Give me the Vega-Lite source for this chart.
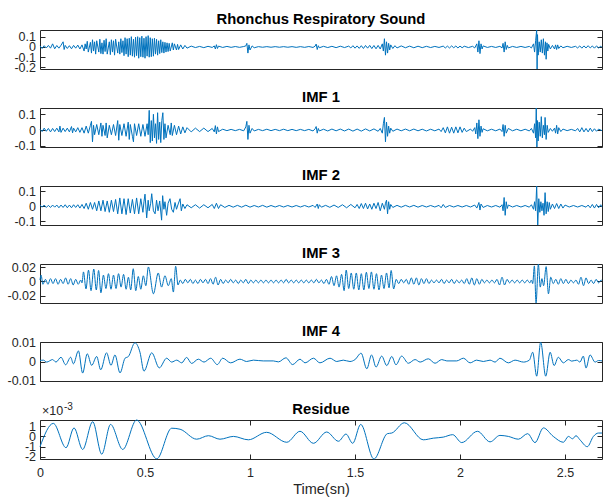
{
  "$schema": "https://vega.github.io/schema/vega-lite/v6.json",
  "background": "white",
  "padding": {"left": 6, "top": 11, "right": 1, "bottom": 0},
  "bounds": "flush",
  "spacing": 39,
  "datasets": {
    "raw": [
      {"t":0,"v":0.01},{"t":0.01,"v":-0.015},{"t":0.02,"v":0.012},{"t":0.03,"v":-0.01},{"t":0.04,"v":0.015},{"t":0.05,"v":-0.012},{"t":0.06,"v":0.03},{"t":0.07,"v":-0.018},{"t":0.08,"v":0.014},{"t":0.09,"v":-0.012},{"t":0.1,"v":0.016},{"t":0.11,"v":0.05},{"t":0.115,"v":-0.025},{"t":0.12,"v":0.015},{"t":0.13,"v":-0.015},{"t":0.14,"v":0.012},{"t":0.15,"v":-0.018},{"t":0.16,"v":0.015},{"t":0.17,"v":-0.012},{"t":0.18,"v":0.018},{"t":0.19,"v":-0.02},{"t":0.2,"v":0.02},
      {"t":0.21,"v":-0.04},{"t":0.215,"v":0.03},{"t":0.22,"v":-0.02},{"t":0.225,"v":0.055},{"t":0.23,"v":-0.05},{"t":0.24,"v":0.045},{"t":0.245,"v":-0.06},{"t":0.25,"v":0.07},{"t":0.255,"v":-0.04},{"t":0.26,"v":0.05},{"t":0.265,"v":-0.07},{"t":0.27,"v":0.06},{"t":0.28,"v":-0.05},{"t":0.285,"v":0.075},{"t":0.29,"v":-0.065},{"t":0.295,"v":0.04},{"t":0.3,"v":-0.07},{"t":0.305,"v":0.065},{"t":0.31,"v":-0.045},{"t":0.315,"v":0.08},{"t":0.32,"v":-0.07},{"t":0.33,"v":0.05},{"t":0.335,"v":-0.075},{"t":0.34,"v":0.07},{"t":0.345,"v":-0.05},{"t":0.35,"v":0.06},{"t":0.355,"v":-0.08},{"t":0.36,"v":0.075},{"t":0.37,"v":-0.06},{"t":0.375,"v":0.05},{"t":0.38,"v":-0.07},{"t":0.385,"v":0.08},{"t":0.39,"v":-0.055},{"t":0.395,"v":0.06},{"t":0.4,"v":-0.085},{"t":0.405,"v":0.09},{"t":0.41,"v":-0.07},{"t":0.415,"v":0.08},{"t":0.42,"v":-0.095},{"t":0.425,"v":0.085},{"t":0.43,"v":-0.08},{"t":0.435,"v":0.1},{"t":0.44,"v":-0.09},{"t":0.445,"v":0.075},{"t":0.45,"v":-0.1},{"t":0.455,"v":0.095},{"t":0.46,"v":-0.085},{"t":0.465,"v":0.1},{"t":0.47,"v":-0.11},{"t":0.475,"v":0.09},{"t":0.48,"v":-0.095},{"t":0.485,"v":0.105},{"t":0.49,"v":-0.1},{"t":0.495,"v":0.085},{"t":0.5,"v":-0.11},{"t":0.505,"v":0.1},{"t":0.51,"v":-0.09},{"t":0.515,"v":0.11},{"t":0.52,"v":-0.1},{"t":0.525,"v":0.09},{"t":0.53,"v":-0.095},{"t":0.535,"v":0.08},{"t":0.54,"v":-0.09},{"t":0.545,"v":0.085},{"t":0.55,"v":-0.07},{"t":0.555,"v":0.075},{"t":0.56,"v":-0.08},{"t":0.565,"v":0.06},{"t":0.57,"v":-0.065},{"t":0.575,"v":0.07},{"t":0.58,"v":-0.055},{"t":0.585,"v":0.05},{"t":0.59,"v":-0.06},{"t":0.595,"v":0.045},{"t":0.6,"v":-0.05},{"t":0.605,"v":0.04},{"t":0.61,"v":-0.045},{"t":0.615,"v":0.035},{"t":0.62,"v":-0.04},{"t":0.63,"v":0.04},{"t":0.635,"v":-0.03},{"t":0.64,"v":0.03},{"t":0.65,"v":-0.03},{"t":0.655,"v":0.025},{"t":0.66,"v":-0.025},{"t":0.67,"v":0.02},{"t":0.68,"v":-0.02},{"t":0.69,"v":0.015},{"t":0.7,"v":-0.012},
      {"t":0.72,"v":0.008},{"t":0.74,"v":-0.006},{"t":0.76,"v":0.005},{"t":0.78,"v":-0.007},{"t":0.8,"v":0.006},{"t":0.82,"v":-0.005},{"t":0.83,"v":0.01},{"t":0.835,"v":-0.02},{"t":0.84,"v":0.022},{"t":0.845,"v":-0.015},{"t":0.85,"v":0.008},{"t":0.87,"v":-0.005},{"t":0.89,"v":0.005},{"t":0.91,"v":-0.004},{"t":0.93,"v":0.004},{"t":0.95,"v":-0.004},{"t":0.97,"v":0.004},{"t":0.98,"v":0.01},{"t":0.985,"v":0.035},{"t":0.99,"v":-0.06},{"t":0.995,"v":0.02},{"t":1,"v":-0.03},{"t":1.01,"v":0.01},{"t":1.02,"v":-0.008},{"t":1.04,"v":0.003},{"t":1.06,"v":-0.003},{"t":1.08,"v":0.003},{"t":1.1,"v":-0.003},{"t":1.12,"v":0.003},{"t":1.14,"v":-0.003},{"t":1.16,"v":0.003},{"t":1.18,"v":-0.003},{"t":1.2,"v":0.003},{"t":1.22,"v":-0.004},{"t":1.24,"v":0.003},
      {"t":1.26,"v":-0.004},{"t":1.28,"v":0.004},{"t":1.3,"v":-0.005},{"t":1.31,"v":0.008},{"t":1.315,"v":0.028},{"t":1.32,"v":-0.025},{"t":1.325,"v":0.012},{"t":1.33,"v":-0.008},{"t":1.35,"v":0.006},{"t":1.37,"v":-0.006},{"t":1.39,"v":0.006},{"t":1.41,"v":-0.007},{"t":1.43,"v":0.007},{"t":1.45,"v":-0.006},{"t":1.47,"v":0.008},{"t":1.48,"v":-0.01},{"t":1.49,"v":0.012},{"t":1.5,"v":-0.012},{"t":1.51,"v":0.01},{"t":1.52,"v":-0.014},{"t":1.53,"v":0.012},{"t":1.54,"v":-0.015},{"t":1.55,"v":0.014},{"t":1.56,"v":-0.012},{"t":1.57,"v":0.015},{"t":1.58,"v":-0.016},{"t":1.59,"v":0.014},{"t":1.6,"v":-0.018},{"t":1.61,"v":0.015},{"t":1.62,"v":-0.02},{"t":1.63,"v":0.03},{"t":1.635,"v":-0.04},{"t":1.64,"v":0.08},{"t":1.645,"v":-0.08},{"t":1.65,"v":0.05},{"t":1.655,"v":-0.06},{"t":1.66,"v":0.035},{"t":1.665,"v":-0.03},{"t":1.67,"v":0.02},{"t":1.68,"v":-0.015},{"t":1.69,"v":0.012},{"t":1.7,"v":-0.01},{"t":1.72,"v":0.01},{"t":1.74,"v":-0.008},{"t":1.76,"v":0.008},{"t":1.78,"v":-0.008},{"t":1.8,"v":0.007},{"t":1.82,"v":-0.007},{"t":1.84,"v":0.006},{"t":1.86,"v":-0.006},{"t":1.88,"v":0.005},{"t":1.9,"v":-0.005},{"t":1.92,"v":0.008},{"t":1.93,"v":-0.01},{"t":1.94,"v":0.008},{"t":1.95,"v":-0.01},{"t":1.96,"v":0.01},{"t":1.97,"v":-0.008},{"t":1.98,"v":0.009},{"t":1.99,"v":-0.01},{"t":2,"v":0.008},{"t":2.01,"v":-0.008},{"t":2.02,"v":0.007},{"t":2.04,"v":-0.006},{"t":2.06,"v":0.006},{"t":2.07,"v":-0.01},{"t":2.08,"v":0.03},{"t":2.085,"v":-0.05},{"t":2.09,"v":0.06},{"t":2.095,"v":-0.065},{"t":2.1,"v":0.03},{"t":2.105,"v":-0.02},{"t":2.11,"v":0.01},{"t":2.13,"v":-0.005},{"t":2.15,"v":0.005},{"t":2.17,"v":-0.005},{"t":2.19,"v":0.006},{"t":2.2,"v":-0.01},{"t":2.205,"v":0.035},{"t":2.21,"v":-0.05},{"t":2.215,"v":0.05},{"t":2.22,"v":-0.025},{"t":2.225,"v":0.015},{"t":2.23,"v":-0.01},{"t":2.25,"v":0.005},{"t":2.27,"v":-0.005},{"t":2.29,"v":0.005},{"t":2.31,"v":-0.005},{"t":2.33,"v":0.005},{"t":2.34,"v":-0.01},{"t":2.35,"v":0.03},{"t":2.355,"v":-0.05},{"t":2.36,"v":0.06},{"t":2.365,"v":0.165},{"t":2.367,"v":-0.215},{"t":2.369,"v":0.12},{"t":2.372,"v":-0.08},{"t":2.377,"v":0.05},{"t":2.382,"v":-0.05},{"t":2.387,"v":0.07},{"t":2.392,"v":-0.06},{"t":2.397,"v":0.08},{"t":2.402,"v":-0.08},{"t":2.407,"v":0.05},{"t":2.41,"v":-0.12},{"t":2.414,"v":0.04},{"t":2.418,"v":-0.04},{"t":2.422,"v":0.025},{"t":2.43,"v":-0.02},{"t":2.44,"v":0.015},{"t":2.45,"v":-0.02},{"t":2.455,"v":0.02},{"t":2.46,"v":-0.025},{"t":2.465,"v":0.02},{"t":2.47,"v":-0.015},{"t":2.48,"v":0.01},{"t":2.49,"v":-0.008},{"t":2.51,"v":0.006},{"t":2.53,"v":-0.005},{"t":2.55,"v":0.006},{"t":2.56,"v":-0.01},{"t":2.57,"v":0.01},{"t":2.58,"v":-0.012},{"t":2.59,"v":0.01},{"t":2.6,"v":-0.01},{"t":2.61,"v":0.012},{"t":2.62,"v":-0.01},{"t":2.63,"v":0.01},{"t":2.64,"v":-0.012},{"t":2.65,"v":0.01},{"t":2.66,"v":-0.01},{"t":2.67,"v":0.008},{"t":2.676,"v":-0.005}
    ],
    "imf1": [
      {"t":0,"v":0.005},{"t":0.01,"v":-0.01},{"t":0.02,"v":0.012},{"t":0.03,"v":-0.008},{"t":0.04,"v":0.01},{"t":0.05,"v":-0.012},{"t":0.06,"v":0.01},{"t":0.07,"v":-0.01},{"t":0.08,"v":0.012},{"t":0.09,"v":-0.012},{"t":0.095,"v":0.025},{"t":0.1,"v":-0.015},{"t":0.11,"v":0.012},{"t":0.12,"v":-0.01},{"t":0.13,"v":0.012},{"t":0.14,"v":-0.012},{"t":0.15,"v":0.022},{"t":0.155,"v":-0.018},{"t":0.16,"v":0.012},{"t":0.17,"v":-0.012},{"t":0.18,"v":0.015},{"t":0.19,"v":-0.015},{"t":0.2,"v":0.015},
      {"t":0.21,"v":-0.02},{"t":0.22,"v":0.025},{"t":0.23,"v":-0.02},{"t":0.24,"v":0.03},{"t":0.245,"v":0.055},{"t":0.25,"v":-0.075},{"t":0.255,"v":0.03},{"t":0.26,"v":-0.03},{"t":0.27,"v":0.035},{"t":0.28,"v":-0.03},{"t":0.29,"v":0.045},{"t":0.295,"v":-0.04},{"t":0.3,"v":0.03},{"t":0.31,"v":-0.035},{"t":0.315,"v":0.045},{"t":0.32,"v":-0.05},{"t":0.33,"v":0.03},{"t":0.34,"v":-0.03},{"t":0.35,"v":0.035},{"t":0.36,"v":-0.035},{"t":0.37,"v":0.06},{"t":0.375,"v":-0.065},{"t":0.38,"v":0.035},{"t":0.39,"v":-0.035},{"t":0.4,"v":0.04},{"t":0.41,"v":-0.04},{"t":0.42,"v":0.05},{"t":0.425,"v":-0.06},{"t":0.43,"v":0.035},{"t":0.44,"v":-0.04},{"t":0.445,"v":-0.075},{"t":0.45,"v":0.04},{"t":0.46,"v":-0.035},{"t":0.47,"v":0.04},{"t":0.48,"v":-0.04},{"t":0.49,"v":0.035},{"t":0.5,"v":-0.04},{"t":0.51,"v":0.04},{"t":0.515,"v":-0.03},{"t":0.52,"v":0.125},{"t":0.525,"v":-0.08},{"t":0.53,"v":0.06},{"t":0.535,"v":-0.07},{"t":0.54,"v":0.1},{"t":0.545,"v":-0.05},{"t":0.55,"v":0.04},{"t":0.555,"v":-0.085},{"t":0.56,"v":0.11},{"t":0.565,"v":-0.06},{"t":0.57,"v":0.05},{"t":0.575,"v":-0.08},{"t":0.58,"v":0.06},{"t":0.585,"v":0.11},{"t":0.59,"v":-0.06},{"t":0.595,"v":0.04},{"t":0.6,"v":-0.05},{"t":0.61,"v":0.03},{"t":0.62,"v":-0.03},{"t":0.625,"v":0.045},{"t":0.63,"v":-0.035},{"t":0.64,"v":0.03},{"t":0.65,"v":-0.03},{"t":0.66,"v":0.025},{"t":0.67,"v":-0.025},{"t":0.68,"v":0.02},{"t":0.69,"v":-0.018},{"t":0.7,"v":0.015},
      {"t":0.72,"v":-0.012},{"t":0.74,"v":0.012},{"t":0.76,"v":-0.01},{"t":0.78,"v":0.012},{"t":0.8,"v":-0.01},{"t":0.82,"v":0.01},{"t":0.83,"v":-0.012},{"t":0.835,"v":0.028},{"t":0.84,"v":-0.025},{"t":0.845,"v":0.02},{"t":0.85,"v":-0.01},{"t":0.87,"v":0.005},{"t":0.89,"v":-0.004},{"t":0.91,"v":0.004},{"t":0.93,"v":-0.004},{"t":0.95,"v":0.004},{"t":0.97,"v":-0.005},{"t":0.98,"v":0.02},{"t":0.985,"v":0.055},{"t":0.99,"v":-0.06},{"t":0.995,"v":0.03},{"t":1,"v":-0.02},{"t":1.01,"v":0.01},{"t":1.02,"v":-0.006},{"t":1.04,"v":0.004},{"t":1.06,"v":-0.004},{"t":1.08,"v":0.005},{"t":1.1,"v":-0.004},{"t":1.12,"v":0.004},{"t":1.14,"v":-0.004},{"t":1.16,"v":0.005},{"t":1.18,"v":-0.004},{"t":1.2,"v":0.004},{"t":1.22,"v":-0.004},{"t":1.24,"v":0.004},
      {"t":1.26,"v":-0.004},{"t":1.28,"v":0.004},{"t":1.3,"v":-0.006},{"t":1.31,"v":0.008},{"t":1.315,"v":0.022},{"t":1.32,"v":-0.02},{"t":1.325,"v":0.01},{"t":1.33,"v":-0.006},{"t":1.35,"v":0.005},{"t":1.37,"v":-0.006},{"t":1.39,"v":0.006},{"t":1.41,"v":-0.005},{"t":1.43,"v":0.006},{"t":1.45,"v":-0.006},{"t":1.47,"v":0.006},{"t":1.49,"v":-0.007},{"t":1.51,"v":0.006},{"t":1.53,"v":-0.007},{"t":1.55,"v":0.007},{"t":1.57,"v":-0.006},{"t":1.59,"v":0.007},{"t":1.61,"v":-0.008},{"t":1.62,"v":0.01},{"t":1.63,"v":-0.02},{"t":1.635,"v":0.04},{"t":1.64,"v":0.08},{"t":1.645,"v":-0.075},{"t":1.65,"v":0.05},{"t":1.655,"v":-0.04},{"t":1.66,"v":0.025},{"t":1.665,"v":-0.02},{"t":1.67,"v":0.012},{"t":1.68,"v":-0.008},{"t":1.7,"v":0.006},{"t":1.72,"v":-0.005},{"t":1.74,"v":0.006},{"t":1.76,"v":-0.005},{"t":1.78,"v":0.006},{"t":1.8,"v":-0.005},{"t":1.82,"v":0.005},{"t":1.84,"v":-0.006},{"t":1.86,"v":0.005},{"t":1.88,"v":-0.005},{"t":1.9,"v":0.006},{"t":1.91,"v":-0.01},{"t":1.92,"v":0.015},{"t":1.93,"v":-0.018},{"t":1.94,"v":0.02},{"t":1.95,"v":-0.02},{"t":1.96,"v":0.018},{"t":1.97,"v":-0.02},{"t":1.98,"v":0.02},{"t":1.99,"v":-0.018},{"t":2,"v":0.02},{"t":2.01,"v":-0.015},{"t":2.02,"v":0.012},{"t":2.03,"v":-0.01},{"t":2.05,"v":0.006},{"t":2.06,"v":-0.008},{"t":2.07,"v":0.015},{"t":2.075,"v":-0.025},{"t":2.08,"v":0.045},{"t":2.085,"v":-0.055},{"t":2.09,"v":0.065},{"t":2.095,"v":-0.04},{"t":2.1,"v":0.025},{"t":2.105,"v":-0.015},{"t":2.11,"v":0.008},{"t":2.13,"v":-0.005},{"t":2.15,"v":0.005},{"t":2.17,"v":-0.005},{"t":2.19,"v":0.006},{"t":2.2,"v":-0.01},{"t":2.205,"v":0.035},{"t":2.21,"v":-0.04},{"t":2.215,"v":0.03},{"t":2.22,"v":-0.02},{"t":2.23,"v":0.01},{"t":2.25,"v":-0.005},{"t":2.27,"v":0.005},{"t":2.29,"v":-0.005},{"t":2.31,"v":0.005},{"t":2.33,"v":-0.006},{"t":2.34,"v":0.01},{"t":2.35,"v":-0.02},{"t":2.355,"v":0.04},{"t":2.36,"v":-0.05},{"t":2.363,"v":0.14},{"t":2.366,"v":-0.108},{"t":2.369,"v":0.06},{"t":2.372,"v":-0.07},{"t":2.377,"v":0.05},{"t":2.382,"v":-0.04},{"t":2.387,"v":0.085},{"t":2.392,"v":-0.05},{"t":2.397,"v":0.03},{"t":2.402,"v":-0.03},{"t":2.405,"v":0.08},{"t":2.41,"v":-0.06},{"t":2.415,"v":0.03},{"t":2.42,"v":-0.015},{"t":2.43,"v":0.01},{"t":2.44,"v":-0.008},{"t":2.45,"v":0.012},{"t":2.455,"v":-0.02},{"t":2.46,"v":0.03},{"t":2.465,"v":-0.025},{"t":2.47,"v":0.015},{"t":2.48,"v":-0.01},{"t":2.49,"v":0.006},{"t":2.51,"v":-0.004},{"t":2.53,"v":0.004},{"t":2.55,"v":-0.005},{"t":2.56,"v":0.01},{"t":2.57,"v":-0.012},{"t":2.58,"v":0.015},{"t":2.59,"v":-0.012},{"t":2.6,"v":0.01},{"t":2.61,"v":-0.012},{"t":2.62,"v":0.012},{"t":2.63,"v":-0.01},{"t":2.64,"v":0.008},{"t":2.65,"v":-0.008},{"t":2.66,"v":0.006},{"t":2.676,"v":-0.004}
    ],
    "imf2": [
      {"t":0,"v":0.008},{"t":0.01,"v":-0.006},{"t":0.02,"v":0.008},{"t":0.03,"v":-0.008},{"t":0.04,"v":0.006},{"t":0.05,"v":-0.008},{"t":0.06,"v":0.008},{"t":0.07,"v":-0.006},{"t":0.08,"v":0.008},{"t":0.09,"v":-0.01},{"t":0.1,"v":0.008},{"t":0.11,"v":-0.008},{"t":0.12,"v":0.01},{"t":0.13,"v":-0.01},{"t":0.14,"v":0.008},{"t":0.15,"v":-0.01},{"t":0.16,"v":0.01},{"t":0.17,"v":-0.008},{"t":0.18,"v":0.01},{"t":0.19,"v":-0.012},{"t":0.2,"v":0.012},
      {"t":0.21,"v":-0.015},{"t":0.22,"v":0.02},{"t":0.23,"v":-0.02},{"t":0.24,"v":0.025},{"t":0.25,"v":-0.02},{"t":0.26,"v":0.025},{"t":0.27,"v":-0.03},{"t":0.28,"v":0.035},{"t":0.29,"v":-0.03},{"t":0.3,"v":0.04},{"t":0.31,"v":-0.035},{"t":0.32,"v":0.035},{"t":0.33,"v":-0.04},{"t":0.34,"v":0.04},{"t":0.35,"v":-0.035},{"t":0.36,"v":0.045},{"t":0.37,"v":-0.05},{"t":0.38,"v":0.055},{"t":0.39,"v":-0.05},{"t":0.4,"v":0.05},{"t":0.41,"v":-0.055},{"t":0.42,"v":0.05},{"t":0.43,"v":-0.045},{"t":0.44,"v":0.045},{"t":0.45,"v":-0.05},{"t":0.46,"v":0.055},{"t":0.47,"v":-0.05},{"t":0.48,"v":0.05},{"t":0.49,"v":-0.04},{"t":0.495,"v":0.03},{"t":0.5,"v":0.08},{"t":0.505,"v":-0.02},{"t":0.508,"v":-0.077},{"t":0.515,"v":0.04},{"t":0.52,"v":-0.03},{"t":0.527,"v":0.02},{"t":0.532,"v":0.083},{"t":0.54,"v":-0.03},{"t":0.548,"v":-0.05},{"t":0.555,"v":0.04},{"t":0.562,"v":-0.03},{"t":0.57,"v":0.035},{"t":0.579,"v":-0.092},{"t":0.584,"v":0.07},{"t":0.59,"v":-0.02},{"t":0.595,"v":0.03},{"t":0.603,"v":-0.06},{"t":0.61,"v":0.02},{"t":0.619,"v":0.05},{"t":0.627,"v":-0.02},{"t":0.635,"v":-0.04},{"t":0.643,"v":0.025},{"t":0.65,"v":-0.02},{"t":0.658,"v":0.015},{"t":0.667,"v":0.05},{"t":0.673,"v":-0.03},{"t":0.68,"v":0.015},{"t":0.69,"v":-0.015},{"t":0.7,"v":0.01},
      {"t":0.72,"v":-0.01},{"t":0.74,"v":0.01},{"t":0.76,"v":-0.012},{"t":0.78,"v":0.01},{"t":0.8,"v":-0.01},{"t":0.82,"v":0.012},{"t":0.83,"v":-0.015},{"t":0.84,"v":0.02},{"t":0.85,"v":-0.015},{"t":0.86,"v":0.01},{"t":0.88,"v":-0.008},{"t":0.9,"v":0.006},{"t":0.92,"v":-0.006},{"t":0.94,"v":0.006},{"t":0.96,"v":-0.006},{"t":0.98,"v":0.007},{"t":1,"v":-0.006},{"t":1.02,"v":0.005},{"t":1.04,"v":-0.005},{"t":1.06,"v":0.006},{"t":1.08,"v":-0.006},{"t":1.1,"v":0.005},{"t":1.12,"v":-0.005},{"t":1.14,"v":0.005},{"t":1.16,"v":-0.005},{"t":1.18,"v":0.005},{"t":1.2,"v":-0.005},{"t":1.22,"v":0.005},{"t":1.24,"v":-0.005},
      {"t":1.26,"v":0.005},{"t":1.28,"v":-0.005},{"t":1.3,"v":0.006},{"t":1.31,"v":-0.008},{"t":1.32,"v":0.015},{"t":1.325,"v":-0.015},{"t":1.33,"v":0.01},{"t":1.34,"v":-0.006},{"t":1.36,"v":0.006},{"t":1.38,"v":-0.007},{"t":1.4,"v":0.008},{"t":1.42,"v":-0.008},{"t":1.44,"v":0.01},{"t":1.46,"v":-0.01},{"t":1.48,"v":0.012},{"t":1.5,"v":-0.01},{"t":1.51,"v":0.012},{"t":1.52,"v":-0.015},{"t":1.53,"v":0.018},{"t":1.54,"v":-0.015},{"t":1.55,"v":0.02},{"t":1.56,"v":-0.018},{"t":1.57,"v":0.015},{"t":1.58,"v":-0.02},{"t":1.59,"v":0.02},{"t":1.6,"v":-0.015},{"t":1.61,"v":0.025},{"t":1.62,"v":-0.03},{"t":1.63,"v":0.02},{"t":1.64,"v":-0.02},{"t":1.645,"v":0.02},{"t":1.65,"v":0.04},{"t":1.655,"v":-0.05},{"t":1.66,"v":0.03},{"t":1.665,"v":-0.02},{"t":1.67,"v":0.012},{"t":1.68,"v":-0.008},{"t":1.7,"v":0.006},{"t":1.72,"v":-0.006},{"t":1.74,"v":0.006},{"t":1.76,"v":-0.005},{"t":1.78,"v":0.006},{"t":1.8,"v":-0.006},{"t":1.82,"v":0.005},{"t":1.84,"v":-0.005},{"t":1.86,"v":0.005},{"t":1.88,"v":-0.005},{"t":1.9,"v":0.006},{"t":1.91,"v":-0.01},{"t":1.92,"v":0.012},{"t":1.93,"v":-0.008},{"t":1.95,"v":0.005},{"t":1.97,"v":-0.005},{"t":1.99,"v":0.005},{"t":2.01,"v":-0.005},{"t":2.03,"v":0.005},{"t":2.05,"v":-0.005},{"t":2.07,"v":0.008},{"t":2.08,"v":-0.012},{"t":2.09,"v":0.025},{"t":2.095,"v":-0.025},{"t":2.1,"v":0.015},{"t":2.11,"v":-0.008},{"t":2.13,"v":0.005},{"t":2.15,"v":-0.005},{"t":2.17,"v":0.005},{"t":2.19,"v":-0.006},{"t":2.2,"v":0.01},{"t":2.205,"v":-0.03},{"t":2.21,"v":0.058},{"t":2.215,"v":-0.06},{"t":2.22,"v":0.03},{"t":2.225,"v":-0.015},{"t":2.23,"v":0.008},{"t":2.25,"v":-0.005},{"t":2.27,"v":0.005},{"t":2.29,"v":-0.005},{"t":2.31,"v":0.005},{"t":2.33,"v":-0.006},{"t":2.34,"v":0.01},{"t":2.35,"v":-0.02},{"t":2.355,"v":0.03},{"t":2.36,"v":-0.03},{"t":2.365,"v":0.134},{"t":2.37,"v":-0.124},{"t":2.375,"v":0.05},{"t":2.38,"v":-0.04},{"t":2.385,"v":0.03},{"t":2.39,"v":-0.03},{"t":2.395,"v":0.02},{"t":2.4,"v":-0.06},{"t":2.405,"v":0.09},{"t":2.41,"v":-0.05},{"t":2.415,"v":0.03},{"t":2.42,"v":-0.035},{"t":2.425,"v":0.025},{"t":2.43,"v":-0.02},{"t":2.44,"v":0.015},{"t":2.45,"v":-0.015},{"t":2.46,"v":0.018},{"t":2.47,"v":-0.015},{"t":2.48,"v":0.015},{"t":2.49,"v":-0.012},{"t":2.5,"v":0.008},{"t":2.52,"v":-0.005},{"t":2.54,"v":0.005},{"t":2.56,"v":-0.005},{"t":2.58,"v":0.005},{"t":2.6,"v":-0.006},{"t":2.61,"v":0.008},{"t":2.62,"v":-0.01},{"t":2.63,"v":0.012},{"t":2.64,"v":-0.012},{"t":2.65,"v":0.012},{"t":2.66,"v":-0.01},{"t":2.67,"v":0.01},{"t":2.676,"v":-0.006}
    ],
    "imf3": [
      {"t":0,"v":0.002},{"t":0.005,"v":0.009},{"t":0.014,"v":-0.004},{"t":0.026,"v":0.003},{"t":0.038,"v":-0.004},{"t":0.05,"v":0.004},{"t":0.062,"v":-0.003},{"t":0.074,"v":0.004},{"t":0.086,"v":-0.004},{"t":0.098,"v":0.003},{"t":0.11,"v":-0.003},{"t":0.122,"v":0.005},{"t":0.134,"v":-0.004},{"t":0.146,"v":0.004},{"t":0.158,"v":-0.005},{"t":0.17,"v":0.003},{"t":0.182,"v":-0.004},{"t":0.194,"v":0.002},
      {"t":0.2,"v":-0.002},{"t":0.207,"v":0.0135},{"t":0.219,"v":-0.0105},{"t":0.231,"v":0.016},{"t":0.243,"v":-0.013},{"t":0.256,"v":0.0175},{"t":0.268,"v":-0.012},{"t":0.279,"v":0.0155},{"t":0.29,"v":-0.016},{"t":0.302,"v":0.009},{"t":0.314,"v":-0.01},{"t":0.326,"v":0.011},{"t":0.338,"v":-0.011},{"t":0.35,"v":0.009},{"t":0.362,"v":-0.01},{"t":0.374,"v":0.011},{"t":0.386,"v":-0.008},{"t":0.398,"v":0.01},{"t":0.41,"v":-0.011},{"t":0.421,"v":0.006},{"t":0.432,"v":-0.012},{"t":0.444,"v":0.018},{"t":0.456,"v":-0.013},{"t":0.468,"v":0.007},{"t":0.48,"v":-0.011},{"t":0.492,"v":0.008},{"t":0.504,"v":-0.006},{"t":0.516,"v":0.0205},{"t":0.54,"v":-0.0175},{"t":0.563,"v":0.012},{"t":0.579,"v":-0.008},{"t":0.595,"v":0.008},{"t":0.611,"v":-0.006},{"t":0.625,"v":0.004},{"t":0.635,"v":-0.015},{"t":0.646,"v":0.0215},{"t":0.657,"v":-0.005},{"t":0.668,"v":0.002},
      {"t":0.68,"v":-0.003},{"t":0.692,"v":0.003},{"t":0.704,"v":-0.002},{"t":0.716,"v":0.003},{"t":0.728,"v":-0.003},{"t":0.74,"v":0.002},{"t":0.752,"v":-0.003},{"t":0.764,"v":0.003},{"t":0.776,"v":-0.002},{"t":0.788,"v":0.003},{"t":0.8,"v":-0.003},{"t":0.812,"v":0.004},{"t":0.824,"v":-0.004},{"t":0.836,"v":0.006},{"t":0.848,"v":-0.005},{"t":0.86,"v":0.003},{"t":0.872,"v":-0.003},{"t":0.884,"v":0.002},{"t":0.896,"v":-0.002},{"t":0.908,"v":0.003},{"t":0.92,"v":-0.002},{"t":0.932,"v":0.002},{"t":0.944,"v":-0.003},{"t":0.956,"v":0.002},{"t":0.968,"v":-0.002},{"t":0.98,"v":0.003},{"t":0.992,"v":-0.003},{"t":1.004,"v":0.002},{"t":1.016,"v":-0.002},{"t":1.028,"v":0.002},{"t":1.04,"v":-0.002},{"t":1.052,"v":0.002},{"t":1.064,"v":-0.002},{"t":1.076,"v":0.002},{"t":1.088,"v":-0.002},{"t":1.1,"v":0.002},{"t":1.112,"v":-0.002},{"t":1.124,"v":0.002},{"t":1.136,"v":-0.002},{"t":1.148,"v":0.002},{"t":1.16,"v":-0.002},{"t":1.172,"v":0.003},{"t":1.184,"v":-0.002},{"t":1.196,"v":0.002},{"t":1.208,"v":-0.002},{"t":1.22,"v":0.002},{"t":1.232,"v":-0.002},{"t":1.244,"v":0.002},
      {"t":1.256,"v":-0.002},{"t":1.268,"v":0.002},{"t":1.28,"v":-0.002},{"t":1.292,"v":0.002},{"t":1.304,"v":-0.002},{"t":1.316,"v":0.003},{"t":1.328,"v":-0.002},{"t":1.34,"v":0.002},{"t":1.352,"v":-0.003},{"t":1.364,"v":0.003},{"t":1.376,"v":-0.004},{"t":1.388,"v":0.007},{"t":1.4,"v":-0.006},{"t":1.412,"v":0.008},{"t":1.424,"v":-0.008},{"t":1.436,"v":0.01},{"t":1.448,"v":-0.013},{"t":1.458,"v":0.016},{"t":1.47,"v":-0.01},{"t":1.482,"v":0.012},{"t":1.494,"v":-0.011},{"t":1.506,"v":0.012},{"t":1.518,"v":-0.012},{"t":1.53,"v":0.011},{"t":1.542,"v":-0.012},{"t":1.554,"v":0.013},{"t":1.566,"v":-0.01},{"t":1.578,"v":0.0135},{"t":1.59,"v":-0.011},{"t":1.602,"v":0.011},{"t":1.614,"v":-0.012},{"t":1.626,"v":0.009},{"t":1.638,"v":-0.01},{"t":1.65,"v":0.012},{"t":1.662,"v":-0.009},{"t":1.672,"v":0.0155},{"t":1.684,"v":-0.0106},{"t":1.696,"v":0.003},{"t":1.708,"v":-0.003},
      {"t":1.72,"v":0.003},{"t":1.732,"v":-0.002},{"t":1.744,"v":0.003},{"t":1.756,"v":-0.004},{"t":1.768,"v":0.005},{"t":1.78,"v":-0.004},{"t":1.792,"v":0.005},{"t":1.804,"v":-0.005},{"t":1.816,"v":0.004},{"t":1.828,"v":-0.003},{"t":1.84,"v":0.004},{"t":1.852,"v":-0.003},{"t":1.864,"v":0.002},{"t":1.876,"v":-0.002},{"t":1.888,"v":0.002},{"t":1.9,"v":-0.002},{"t":1.912,"v":0.003},{"t":1.924,"v":-0.003},{"t":1.936,"v":0.002},{"t":1.948,"v":-0.002},{"t":1.96,"v":0.003},{"t":1.972,"v":-0.003},{"t":1.984,"v":0.002},{"t":1.996,"v":-0.002},{"t":2.008,"v":0.002},{"t":2.02,"v":-0.003},{"t":2.032,"v":0.004},{"t":2.044,"v":-0.004},{"t":2.056,"v":0.005},{"t":2.068,"v":-0.005},{"t":2.08,"v":0.004},{"t":2.092,"v":-0.004},{"t":2.104,"v":0.003},{"t":2.116,"v":-0.002},{"t":2.128,"v":0.002},{"t":2.14,"v":-0.002},{"t":2.152,"v":0.002},{"t":2.164,"v":-0.002},{"t":2.176,"v":0.003},{"t":2.188,"v":-0.005},{"t":2.2,"v":0.006},{"t":2.212,"v":-0.005},{"t":2.224,"v":0.003},{"t":2.236,"v":-0.002},{"t":2.248,"v":0.002},{"t":2.26,"v":-0.002},{"t":2.272,"v":0.002},{"t":2.284,"v":-0.002},{"t":2.296,"v":0.002},{"t":2.308,"v":-0.002},{"t":2.32,"v":0.002},{"t":2.332,"v":-0.002},{"t":2.34,"v":0.002},{"t":2.346,"v":-0.003},{"t":2.354,"v":0.022},{"t":2.362,"v":-0.0305},{"t":2.373,"v":0.0245},{"t":2.382,"v":-0.008},{"t":2.39,"v":0.004},{"t":2.398,"v":-0.006},{"t":2.41,"v":0.021},{"t":2.421,"v":-0.0175},{"t":2.432,"v":0.006},{"t":2.444,"v":-0.003},
      {"t":2.456,"v":0.003},{"t":2.468,"v":-0.004},{"t":2.48,"v":0.004},{"t":2.492,"v":-0.003},{"t":2.504,"v":0.003},{"t":2.516,"v":-0.003},{"t":2.528,"v":0.002},{"t":2.54,"v":-0.002},{"t":2.552,"v":0.002},{"t":2.564,"v":-0.004},{"t":2.576,"v":0.006},{"t":2.588,"v":-0.006},{"t":2.6,"v":0.005},{"t":2.612,"v":-0.003},{"t":2.624,"v":0.002},{"t":2.636,"v":-0.003},{"t":2.648,"v":0.003},{"t":2.66,"v":-0.002},{"t":2.672,"v":0.002},{"t":2.676,"v":0.001}
    ],
    "imf4": [
      {"t":0,"v":0.0005},{"t":0.016,"v":0.0007},{"t":0.032,"v":-0.0003},{"t":0.06,"v":0.001},{"t":0.076,"v":-0.0003},{"t":0.1,"v":0.0022},{"t":0.122,"v":-0.0017},{"t":0.146,"v":0.0022},{"t":0.159,"v":-0.0012},{"t":0.183,"v":0.0055},{"t":0.203,"v":-0.006},{"t":0.225,"v":0.004},{"t":0.246,"v":-0.002},{"t":0.27,"v":0.0026},{"t":0.289,"v":-0.0043},{"t":0.317,"v":0.0045},{"t":0.338,"v":-0.002},{"t":0.357,"v":0.0034},{"t":0.381,"v":-0.0059},{"t":0.405,"v":0.0017},{"t":0.421,"v":0.0026},{"t":0.452,"v":0.0097},{"t":0.476,"v":0.0048},{"t":0.495,"v":-0.005},{"t":0.532,"v":0.0045},{"t":0.568,"v":-0.0033},{"t":0.603,"v":0.0017},{"t":0.627,"v":-0.0003},{"t":0.651,"v":0.0007},{"t":0.675,"v":-0.0007},{"t":0.698,"v":0.0021},{"t":0.722,"v":-0.001},{"t":0.754,"v":0.0012},{"t":0.781,"v":-0.0003},{"t":0.813,"v":0.0017},{"t":0.844,"v":-0.0016},{"t":0.87,"v":0.0017},{"t":0.908,"v":-0.0007},{"t":0.952,"v":0.0012},{"t":0.984,"v":0},{"t":1.016,"v":0.0007},{"t":1.063,"v":0.0003},{"t":1.111,"v":0.0003},{"t":1.135,"v":-0.0002},{"t":1.171,"v":0.0019},{"t":1.203,"v":-0.0016},{"t":1.238,"v":0.0012},{"t":1.262,"v":-0.0007},{"t":1.302,"v":0.0017},{"t":1.333,"v":-0.0007},{"t":1.381,"v":0.0017},{"t":1.413,"v":0},{"t":1.444,"v":0.0007},{"t":1.476,"v":0},{"t":1.5,"v":0.001},{"t":1.529,"v":0.0043},{"t":1.556,"v":-0.0038},{"t":1.579,"v":0.0034},{"t":1.6,"v":-0.0029},{"t":1.627,"v":0.0028},{"t":1.651,"v":-0.0021},{"t":1.675,"v":0.0026},{"t":1.695,"v":-0.0017},{"t":1.722,"v":0.0028},{"t":1.754,"v":-0.0009},{"t":1.786,"v":0.001},{"t":1.81,"v":-0.0003},{"t":1.849,"v":0.0014},{"t":1.881,"v":-0.0009},{"t":1.913,"v":0.001},{"t":1.937,"v":0.0003},{"t":1.984,"v":0.0003},{"t":2.016,"v":0.0017},{"t":2.048,"v":-0.0007},{"t":2.079,"v":0.0007},{"t":2.111,"v":0},{"t":2.143,"v":0.0007},{"t":2.167,"v":-0.0003},{"t":2.19,"v":0.0017},{"t":2.23,"v":-0.0007},{"t":2.262,"v":0.0007},{"t":2.302,"v":-0.0003},{"t":2.33,"v":0.0007},{"t":2.346,"v":0.0048},{"t":2.365,"v":-0.0076},{"t":2.384,"v":0.01},{"t":2.408,"v":-0.0076},{"t":2.429,"v":0.0048},{"t":2.448,"v":-0.0021},{"t":2.468,"v":0.0022},{"t":2.492,"v":-0.0007},{"t":2.516,"v":0.001},{"t":2.532,"v":0.0002},{"t":2.556,"v":0.0007},{"t":2.571,"v":-0.0003},{"t":2.587,"v":0.0028},{"t":2.6,"v":-0.0034},{"t":2.619,"v":0.0034},{"t":2.643,"v":-0.0003},{"t":2.659,"v":0.0005},{"t":2.676,"v":0.0003}
    ],
    "residue": [
      {"t":0,"v":-0.001},{"t":0.0635,"v":0.00127},{"t":0.124,"v":-0.0011},{"t":0.162,"v":0.00083},{"t":0.203,"v":-0.00127},{"t":0.251,"v":0.00143},{"t":0.294,"v":-0.00173},{"t":0.336,"v":0.00117},{"t":0.394,"v":-0.00127},{"t":0.46,"v":0.0016},{"t":0.556,"v":-0.00218},{"t":0.627,"v":0.0008},{"t":0.667,"v":0.0007},{"t":0.746,"v":-0.00027},{"t":0.802,"v":0.00007},{"t":0.857,"v":-0.00027},{"t":0.921,"v":0},{"t":0.992,"v":-0.00033},{"t":1.079,"v":0.0004},{"t":1.175,"v":-0.00057},{"t":1.238,"v":0.0005},{"t":1.302,"v":-0.00067},{"t":1.365,"v":0.00043},{"t":1.421,"v":-0.00047},{"t":1.457,"v":0.00023},{"t":1.489,"v":-0.00067},{"t":1.527,"v":0.00117},{"t":1.59,"v":-0.0022},{"t":1.654,"v":0.00027},{"t":1.675,"v":0.00033},{"t":1.735,"v":0.00133},{"t":1.825,"v":-0.00033},{"t":1.873,"v":-0.00017},{"t":1.92,"v":-0.00007},{"t":1.965,"v":0.00017},{"t":2.008,"v":-0.0006},{"t":2.083,"v":0.0005},{"t":2.143,"v":-0.00053},{"t":2.19,"v":0.0001},{"t":2.23,"v":0},{"t":2.278,"v":-0.00027},{"t":2.322,"v":0.00027},{"t":2.357,"v":-0.0006},{"t":2.397,"v":0.00083},{"t":2.444,"v":0},{"t":2.492,"v":-0.00057},{"t":2.516,"v":0},{"t":2.536,"v":-0.00023},{"t":2.552,"v":0.00007},{"t":2.571,"v":-0.00033},{"t":2.606,"v":-0.001},{"t":2.635,"v":0},{"t":2.659,"v":0.00033},{"t":2.676,"v":0.00033}
    ]
  },
  "vconcat": [
    {
      "width": 562, "height": 39,
      "layer": [
        {"data": {"name": "raw"}, "mark": {"type": "line"},
         "encoding": {
           "x": {"field": "t", "type": "quantitative", "scale": {"domain": [0, 2.676], "nice": false, "zero": false}, "axis": null},
           "y": {"field": "v", "type": "quantitative", "scale": {"domain": [-0.215, 0.165], "nice": false, "zero": false},
                 "axis": {"orient": "left", "values": [-0.2, -0.1, 0, 0.1], "labelExpr": "'' + datum.value", "title": null}}}},
        {"data": {"values": [{}]}, "mark": {"type": "rule", "opacity": 0},
         "encoding": {"y": {"datum": 0, "type": "quantitative", "scale": {"domain": [-0.215, 0.165], "nice": false, "zero": false},
                 "axis": {"orient": "right", "values": [-0.2, -0.1, 0, 0.1], "labels": false, "title": null}}}},
        {"data": {"values": [{}]}, "mark": {"type": "text", "text": "Rhonchus Respiratory Sound", "dy": -6},
         "encoding": {"x": {"datum": 1.338, "type": "quantitative", "axis": null}, "y": {"datum": 0.165, "type": "quantitative", "axis": null}}}
      ],
      "resolve": {"axis": {"y": "independent"}}
    },
    {
      "width": 562, "height": 39,
      "layer": [
        {"data": {"name": "imf1"}, "mark": {"type": "line"},
         "encoding": {
           "x": {"field": "t", "type": "quantitative", "scale": {"domain": [0, 2.676], "nice": false, "zero": false}, "axis": null},
           "y": {"field": "v", "type": "quantitative", "scale": {"domain": [-0.108, 0.14], "nice": false, "zero": false},
                 "axis": {"orient": "left", "values": [-0.1, 0, 0.1], "labelExpr": "'' + datum.value", "title": null}}}},
        {"data": {"values": [{}]}, "mark": {"type": "rule", "opacity": 0},
         "encoding": {"y": {"datum": 0, "type": "quantitative", "scale": {"domain": [-0.108, 0.14], "nice": false, "zero": false},
                 "axis": {"orient": "right", "values": [-0.1, 0, 0.1], "labels": false, "title": null}}}},
        {"data": {"values": [{}]}, "mark": {"type": "text", "text": "IMF 1", "dy": -6},
         "encoding": {"x": {"datum": 1.338, "type": "quantitative", "axis": null}, "y": {"datum": 0.14, "type": "quantitative", "axis": null}}}
      ],
      "resolve": {"axis": {"y": "independent"}}
    },
    {
      "width": 562, "height": 39,
      "layer": [
        {"data": {"name": "imf2"}, "mark": {"type": "line"},
         "encoding": {
           "x": {"field": "t", "type": "quantitative", "scale": {"domain": [0, 2.676], "nice": false, "zero": false}, "axis": null},
           "y": {"field": "v", "type": "quantitative", "scale": {"domain": [-0.124, 0.134], "nice": false, "zero": false},
                 "axis": {"orient": "left", "values": [-0.1, 0, 0.1], "labelExpr": "'' + datum.value", "title": null}}}},
        {"data": {"values": [{}]}, "mark": {"type": "rule", "opacity": 0},
         "encoding": {"y": {"datum": 0, "type": "quantitative", "scale": {"domain": [-0.124, 0.134], "nice": false, "zero": false},
                 "axis": {"orient": "right", "values": [-0.1, 0, 0.1], "labels": false, "title": null}}}},
        {"data": {"values": [{}]}, "mark": {"type": "text", "text": "IMF 2", "dy": -6},
         "encoding": {"x": {"datum": 1.338, "type": "quantitative", "axis": null}, "y": {"datum": 0.134, "type": "quantitative", "axis": null}}}
      ],
      "resolve": {"axis": {"y": "independent"}}
    },
    {
      "width": 562, "height": 39,
      "layer": [
        {"data": {"name": "imf3"}, "mark": {"type": "line", "interpolate": "monotone"},
         "encoding": {
           "x": {"field": "t", "type": "quantitative", "scale": {"domain": [0, 2.676], "nice": false, "zero": false}, "axis": null},
           "y": {"field": "v", "type": "quantitative", "scale": {"domain": [-0.0305, 0.0247], "nice": false, "zero": false},
                 "axis": {"orient": "left", "values": [-0.02, 0, 0.02], "labelExpr": "'' + datum.value", "title": null}}}},
        {"data": {"values": [{}]}, "mark": {"type": "rule", "opacity": 0},
         "encoding": {"y": {"datum": 0, "type": "quantitative", "scale": {"domain": [-0.0305, 0.0247], "nice": false, "zero": false},
                 "axis": {"orient": "right", "values": [-0.02, 0, 0.02], "labels": false, "title": null}}}},
        {"data": {"values": [{}]}, "mark": {"type": "text", "text": "IMF 3", "dy": -6},
         "encoding": {"x": {"datum": 1.338, "type": "quantitative", "axis": null}, "y": {"datum": 0.0247, "type": "quantitative", "axis": null}}}
      ],
      "resolve": {"axis": {"y": "independent"}}
    },
    {
      "width": 562, "height": 39,
      "layer": [
        {"data": {"name": "imf4"}, "mark": {"type": "line", "interpolate": "monotone"},
         "encoding": {
           "x": {"field": "t", "type": "quantitative", "scale": {"domain": [0, 2.676], "nice": false, "zero": false}, "axis": null},
           "y": {"field": "v", "type": "quantitative", "scale": {"domain": [-0.0101, 0.0101], "nice": false, "zero": false},
                 "axis": {"orient": "left", "values": [-0.01, 0, 0.01], "labelExpr": "'' + datum.value", "title": null}}}},
        {"data": {"values": [{}]}, "mark": {"type": "rule", "opacity": 0},
         "encoding": {"y": {"datum": 0, "type": "quantitative", "scale": {"domain": [-0.0101, 0.0101], "nice": false, "zero": false},
                 "axis": {"orient": "right", "values": [-0.01, 0, 0.01], "labels": false, "title": null}}}},
        {"data": {"values": [{}]}, "mark": {"type": "text", "text": "IMF 4", "dy": -6},
         "encoding": {"x": {"datum": 1.338, "type": "quantitative", "axis": null}, "y": {"datum": 0.0101, "type": "quantitative", "axis": null}}}
      ],
      "resolve": {"axis": {"y": "independent"}}
    },
    {
      "width": 562, "height": 39,
      "layer": [
        {"data": {"name": "residue"}, "mark": {"type": "line", "interpolate": "monotone"},
         "encoding": {
           "x": {"field": "t", "type": "quantitative", "scale": {"domain": [0, 2.676], "nice": false, "zero": false},
                 "axis": {"orient": "bottom", "values": [0, 0.5, 1, 1.5, 2, 2.5], "labelExpr": "'' + datum.value", "title": "Time(sn)", "titleY": 34.5, "titleBaseline": "alphabetic"}},
           "y": {"field": "v", "type": "quantitative", "scale": {"domain": [-0.0022, 0.0016], "nice": false, "zero": false},
                 "axis": {"orient": "left", "values": [-0.002, -0.001, 0, 0.001], "labelExpr": "'' + round(datum.value * 1000)", "title": null}}}},
        {"data": {"values": [{}]}, "mark": {"type": "rule", "opacity": 0},
         "encoding": {"y": {"datum": 0, "type": "quantitative", "scale": {"domain": [-0.0022, 0.0016], "nice": false, "zero": false},
                 "axis": {"orient": "right", "values": [-0.002, -0.001, 0, 0.001], "labels": false, "title": null}}}},
        {"data": {"values": [{}]}, "mark": {"type": "rule", "opacity": 0},
         "encoding": {"x": {"datum": 0, "type": "quantitative", "scale": {"domain": [0, 2.676], "nice": false, "zero": false},
                 "axis": {"orient": "top", "values": [0, 0.5, 1, 1.5, 2, 2.5], "labels": false, "title": null}}}},
        {"data": {"values": [{}]}, "mark": {"type": "text", "text": "Residue", "dy": -6},
         "encoding": {"x": {"datum": 1.338, "type": "quantitative", "axis": null}, "y": {"datum": 0.0016, "type": "quantitative", "axis": null}}},
        {"data": {"values": [{}]}, "mark": {"type": "text", "text": "×10", "align": "left", "baseline": "alphabetic", "dx": 2, "dy": -5, "font": "Liberation Sans", "fontSize": 12.5, "fontWeight": "normal", "color": "#262626"},
         "encoding": {"x": {"datum": 0, "type": "quantitative", "axis": null}, "y": {"datum": 0.0016, "type": "quantitative", "axis": null}}},
        {"data": {"values": [{}]}, "mark": {"type": "text", "text": "-3", "align": "left", "baseline": "alphabetic", "dx": 24, "dy": -10, "font": "Liberation Sans", "fontSize": 10, "fontWeight": "normal", "color": "#262626"},
         "encoding": {"x": {"datum": 0, "type": "quantitative", "axis": null}, "y": {"datum": 0.0016, "type": "quantitative", "axis": null}}}
      ],
      "resolve": {"axis": {"x": "independent", "y": "independent"}}
    }
  ],
  "config": {
    "view": {"stroke": "#262626", "strokeWidth": 1},
    "axis": {"labelFont": "Liberation Sans", "labelFontSize": 12.5, "labelColor": "#262626", "tickColor": "#262626", "tickWidth": 1, "tickSize": -5, "domain": false, "grid": false, "labelOverlap": false, "labelFlush": false, "labelBound": false, "titleFont": "Liberation Sans", "titleFontSize": 14.5, "titleFontWeight": "normal", "titleColor": "#262626"},
    "axisLeft": {"labelPadding": 9.5},
    "axisBottom": {"labelPadding": 12},
    "text": {"font": "Liberation Sans", "fontSize": 14.8, "fontWeight": "bold", "color": "#000000", "align": "center", "baseline": "alphabetic"},
    "line": {"color": "#0072BD", "strokeWidth": 1, "strokeJoin": "round", "clip": true}
  }
}
